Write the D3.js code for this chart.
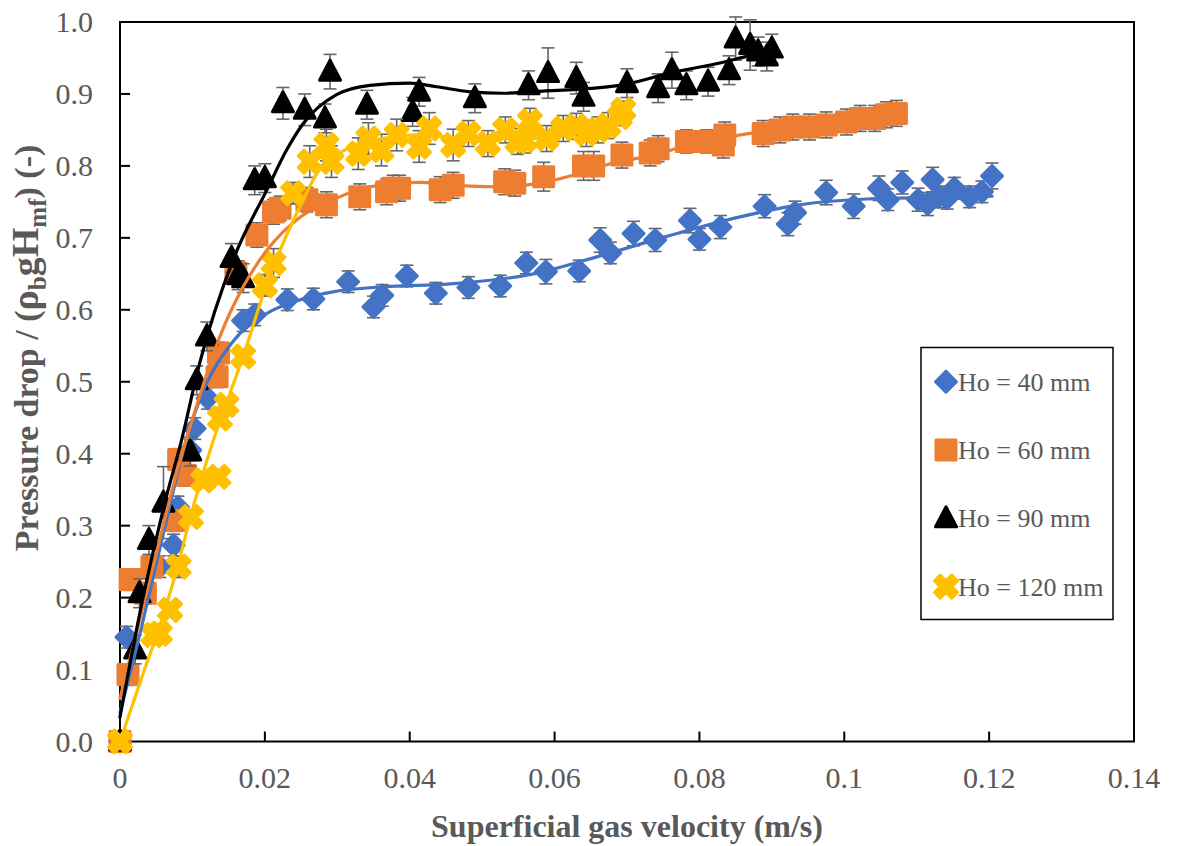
<!DOCTYPE html>
<html>
<head>
<meta charset="utf-8">
<script src="https://cdn.jsdelivr.net/npm/d3@7"></script>
<style>
body { margin: 0; background: #fff; }
</style>
</head>
<body>
<div id="chart"></div>
<script>
// points: [velocity, pressure drop ratio, error]
var ho40 = [
  [0, 0, 0], [0.0009, 0.145, 0.015], [0.0055, 0.243, 0.015], [0.0074, 0.273, 0.015], [0.008, 0.326, 0.015],
  [0.0097, 0.405, 0.015], [0.0103, 0.435, 0.015], [0.0121, 0.477, 0.015], [0.0170, 0.585, 0.015], [0.0186, 0.593, 0.015],
  [0.0231, 0.614, 0.015], [0.0267, 0.615, 0.015], [0.0315, 0.639, 0.015], [0.0350, 0.604, 0.015], [0.0362, 0.620, 0.015],
  [0.0396, 0.647, 0.015], [0.0436, 0.623, 0.015], [0.0481, 0.631, 0.015], [0.0525, 0.633, 0.015], [0.0561, 0.665, 0.015],
  [0.0588, 0.653, 0.017], [0.0634, 0.654, 0.015], [0.0663, 0.697, 0.017], [0.0677, 0.679, 0.015], [0.0709, 0.706, 0.017],
  [0.0739, 0.697, 0.016], [0.0787, 0.724, 0.017], [0.0800, 0.698, 0.015], [0.0829, 0.715, 0.016], [0.0890, 0.744, 0.016],
  [0.0922, 0.719, 0.016], [0.0932, 0.735, 0.016], [0.0975, 0.763, 0.017], [0.1013, 0.744, 0.017], [0.1048, 0.769, 0.017],
  [0.1060, 0.753, 0.015], [0.1080, 0.777, 0.016], [0.1102, 0.753, 0.016], [0.1115, 0.747, 0.016], [0.1122, 0.781, 0.017],
  [0.1130, 0.757, 0.015], [0.1142, 0.755, 0.015], [0.1152, 0.769, 0.015], [0.1173, 0.757, 0.015], [0.1190, 0.764, 0.015],
  [0.1204, 0.786, 0.018]
];
var ho60 = [
  [0, 0, 0], [0.0011, 0.093, 0.015], [0.0014, 0.225, 0.015], [0.0035, 0.206, 0.015], [0.0044, 0.243, 0.015],
  [0.0076, 0.307, 0.015], [0.0081, 0.392, 0.015], [0.0090, 0.370, 0.015], [0.0134, 0.507, 0.015], [0.0136, 0.540, 0.015],
  [0.0160, 0.651, 0.015], [0.0189, 0.704, 0.017], [0.0212, 0.736, 0.017], [0.0221, 0.741, 0.017], [0.0258, 0.753, 0.017],
  [0.0285, 0.746, 0.018], [0.0331, 0.757, 0.018], [0.0368, 0.764, 0.018], [0.0377, 0.769, 0.018], [0.0386, 0.769, 0.018],
  [0.0442, 0.767, 0.018], [0.0460, 0.773, 0.018], [0.0531, 0.778, 0.018], [0.0545, 0.776, 0.018], [0.0585, 0.785, 0.02],
  [0.0640, 0.800, 0.02], [0.0654, 0.800, 0.02], [0.0693, 0.815, 0.018], [0.0732, 0.818, 0.018], [0.0743, 0.824, 0.018],
  [0.0782, 0.834, 0.016], [0.0810, 0.834, 0.016], [0.0833, 0.829, 0.018], [0.0835, 0.843, 0.018], [0.0888, 0.845, 0.018],
  [0.0911, 0.850, 0.018], [0.0929, 0.854, 0.018], [0.0952, 0.854, 0.018], [0.0975, 0.857, 0.018], [0.1003, 0.861, 0.018],
  [0.1022, 0.866, 0.018], [0.1042, 0.866, 0.018], [0.1058, 0.871, 0.018], [0.1072, 0.873, 0.018]
];
var ho90 = [
  [0, 0, 0], [0.0021, 0.128, 0.02], [0.0027, 0.206, 0.02], [0.0040, 0.280, 0.02], [0.0060, 0.332, 0.05],
  [0.0097, 0.403, 0.02], [0.0106, 0.502, 0.02], [0.0120, 0.563, 0.02], [0.0154, 0.672, 0.02], [0.0163, 0.648, 0.02],
  [0.0170, 0.644, 0.02], [0.0186, 0.780, 0.02], [0.0200, 0.783, 0.02], [0.0225, 0.887, 0.022], [0.0255, 0.878, 0.022],
  [0.0283, 0.866, 0.02], [0.0290, 0.931, 0.024], [0.0341, 0.885, 0.02], [0.0404, 0.875, 0.02], [0.0413, 0.903, 0.02],
  [0.0490, 0.894, 0.02], [0.0564, 0.912, 0.02], [0.0591, 0.929, 0.035], [0.0630, 0.922, 0.022], [0.0640, 0.896, 0.02],
  [0.0700, 0.915, 0.02], [0.0743, 0.908, 0.02], [0.0762, 0.933, 0.025], [0.0782, 0.912, 0.02], [0.0812, 0.917, 0.02],
  [0.0841, 0.933, 0.02], [0.0850, 0.977, 0.03], [0.0870, 0.968, 0.035], [0.0881, 0.959, 0.02], [0.0893, 0.952, 0.02],
  [0.0900, 0.963, 0.02]
];
var ho120 = [
  [0, 0, 0], [0.0046, 0.148, 0.01], [0.0055, 0.150, 0.01], [0.0069, 0.183, 0.01], [0.0081, 0.243, 0.015],
  [0.0098, 0.312, 0.01], [0.0115, 0.363, 0.01], [0.0136, 0.368, 0.01], [0.0138, 0.449, 0.01], [0.0147, 0.468, 0.01],
  [0.0170, 0.535, 0.01], [0.0200, 0.634, 0.015], [0.0212, 0.665, 0.02], [0.0239, 0.762, 0.015], [0.0262, 0.806, 0.022],
  [0.0285, 0.829, 0.022], [0.0292, 0.806, 0.022], [0.0329, 0.817, 0.022], [0.0343, 0.838, 0.022], [0.0361, 0.822, 0.022],
  [0.0382, 0.843, 0.022], [0.0413, 0.827, 0.022], [0.0427, 0.852, 0.022], [0.0460, 0.829, 0.022], [0.0481, 0.845, 0.018],
  [0.0508, 0.831, 0.018], [0.0532, 0.850, 0.018], [0.0549, 0.834, 0.018], [0.0559, 0.836, 0.018], [0.0566, 0.862, 0.018],
  [0.0589, 0.838, 0.018], [0.0612, 0.852, 0.018], [0.0630, 0.855, 0.018], [0.0644, 0.845, 0.018], [0.0660, 0.850, 0.018],
  [0.0674, 0.856, 0.018], [0.0690, 0.868, 0.012], [0.0695, 0.878, 0.012]
];

// trendlines: [velocity, value]
var trend40 = [[0, 0.04], [0.003, 0.16], [0.006, 0.29], [0.0094, 0.428], [0.011, 0.475], [0.0156, 0.556], [0.0203, 0.595],
  [0.0249, 0.614], [0.0294, 0.625], [0.0364, 0.632], [0.0456, 0.636], [0.0571, 0.650], [0.0663, 0.675], [0.0755, 0.702],
  [0.0847, 0.727], [0.0939, 0.746], [0.1031, 0.754], [0.1123, 0.756], [0.1204, 0.758]];
var trend60 = [[0, 0.06], [0.004, 0.22], [0.008, 0.38], [0.011, 0.48], [0.0138, 0.563], [0.017, 0.632], [0.0203, 0.683],
  [0.0249, 0.729], [0.0294, 0.753], [0.0345, 0.771], [0.0414, 0.777], [0.0483, 0.772], [0.0525, 0.771], [0.058, 0.776],
  [0.0626, 0.787], [0.0681, 0.804], [0.0736, 0.815], [0.0782, 0.828], [0.0874, 0.846], [0.0939, 0.854], [0.1, 0.861],
  [0.1072, 0.871]];
var trend90 = [[0, 0.034], [0.0032, 0.201], [0.0064, 0.340], [0.0085, 0.419], [0.011, 0.526], [0.0156, 0.669],
  [0.0203, 0.767], [0.023, 0.822], [0.0253, 0.859], [0.0299, 0.899], [0.0345, 0.912], [0.04, 0.915], [0.0437, 0.910],
  [0.0483, 0.903], [0.0529, 0.901], [0.0566, 0.903], [0.069, 0.912], [0.0759, 0.929], [0.0828, 0.943], [0.0874, 0.954],
  [0.09, 0.958]];
var trend120 = [[0, 0.0], [0.0032, 0.095], [0.0055, 0.160], [0.0078, 0.238], [0.0101, 0.326], [0.0129, 0.419],
  [0.017, 0.535], [0.0203, 0.637], [0.0253, 0.753], [0.0272, 0.790], [0.0299, 0.815], [0.0345, 0.834], [0.0414, 0.843],
  [0.0483, 0.838], [0.0566, 0.838], [0.063, 0.848], [0.0695, 0.872]];

var seriesNames = ["Ho = 40 mm", "Ho = 60 mm", "Ho = 90 mm", "Ho = 120 mm"];
var seriesColors = ["#4472C4", "#ED7D31", "#000000", "#FFC000"];
var seriesShapes = ["diamond", "square", "triangle", "x"];
var xTicks = [0, 0.02, 0.04, 0.06, 0.08, 0.1, 0.12, 0.14];
var yTicks = [0, 0.1, 0.2, 0.3, 0.4, 0.5, 0.6, 0.7, 0.8, 0.9, 1.0];

var allData = [ho40, ho60, ho90, ho120];
var allTrends = [trend40, trend60, trend90, trend120];

function drawChart() {

var svg = d3.select('#chart').append('svg').attr("width", 1177).attr("height", 846);

var pLeft = 120, pRight = 1134, pTop = 22, pBottom = 741.5;
var textCol = "#595959";
var font = "'Liberation Serif', 'Times New Roman', serif";

var x = d3.scaleLinear().domain([0, 0.14]).range([pLeft, pRight]);
var y = d3.scaleLinear().domain([0, 1]).range([pBottom, pTop]);

// marker shapes
function markerPath(shape) {
  if (shape == "diamond") return "M0,-10.5L10.5,0L0,10.5L-10.5,0Z";
  if (shape == "square") return "M-10,-10L10,-10L10,10L-10,10Z";
  if (shape == "triangle") return "M0,-11.5L10.5,8.5L-10.5,8.5Z";
  return d3.symbol().type(d3.symbolCross).size(330)();
}
function markerTransform(shape, px, py) {
  return "translate(" + px + "," + py + ")" + (shape == "x" ? " rotate(45)" : "");
}

// frame
svg.append("rect")
  .attr("x", pLeft).attr("y", pTop)
  .attr("width", pRight - pLeft).attr("height", pBottom - pTop)
  .attr("fill", "none").attr("stroke", "#000").attr("stroke-width", 2);

// ticks (inside)
svg.append("g").selectAll("line")
  .data(yTicks).enter().append("line")
  .attr("x1", pLeft).attr("x2", pLeft + 10)
  .attr("y1", function(d) { return y(d); }).attr("y2", function(d) { return y(d); })
  .attr("stroke", "#000").attr("stroke-width", 2);

svg.append("g").selectAll("line")
  .data(xTicks).enter().append("line")
  .attr("x1", function(d) { return x(d); }).attr("x2", function(d) { return x(d); })
  .attr("y1", pBottom).attr("y2", pBottom - 10)
  .attr("stroke", "#000").attr("stroke-width", 2);

svg.append("g").selectAll("text")
  .data(yTicks).enter().append("text")
  .attr("x", 93)
  .attr("y", function(d) { return y(d) + 10; })
  .attr("text-anchor", "end")
  .attr("font-family", font)
  .attr("font-size", 30)
  .attr("fill", textCol)
  .text(function(d) { return d.toFixed(1); });

svg.append("g").selectAll("text")
  .data(xTicks).enter().append("text")
  .attr("x", function(d) { return x(d); })
  .attr("y", 788)
  .attr("text-anchor", "middle")
  .attr("font-family", font)
  .attr("font-size", 30)
  .attr("fill", textCol)
  .text(function(d) { return String(d); });

// axis titles
svg.append("text")
  .attr("x", (pLeft + pRight) / 2).attr("y", 837)
  .attr("text-anchor", "middle")
  .attr("font-family", font)
  .attr("font-size", 32).attr("font-weight", "bold")
  .attr("fill", textCol)
  .text("Superficial gas velocity (m/s)");

var yTitle = svg.append("text")
  .attr("transform", "translate(38,348) rotate(-90)")
  .attr("text-anchor", "middle")
  .attr("font-family", font)
  .attr("font-size", 34).attr("font-weight", "bold")
  .attr("fill", textCol);
yTitle.append("tspan").text("Pressure drop / (");
yTitle.append("tspan").attr("font-size", 38).text("ρ");
yTitle.append("tspan").attr("dy", 8).attr("font-size", 25).text("b");
yTitle.append("tspan").attr("dy", -8).attr("font-size", 38).text("gH");
yTitle.append("tspan").attr("dy", 8).attr("font-size", 25).text("mf");
yTitle.append("tspan").attr("dy", -8).text(") (-)");

// error bars + markers per series
var plot = svg.append("g");
allData.forEach(function(data, i) {
  var g = plot.append("g");
  var eb = g.selectAll(".eb").data(data.filter(function(d) { return d[2] > 0; })).enter().append("g")
    .attr("stroke", "#666").attr("stroke-width", 1.6);
  eb.append("line")
    .attr("x1", function(d) { return x(d[0]); }).attr("x2", function(d) { return x(d[0]); })
    .attr("y1", function(d) { return y(d[1] - d[2]); }).attr("y2", function(d) { return y(d[1] + d[2]); });
  eb.append("line")
    .attr("x1", function(d) { return x(d[0]) - 6.5; }).attr("x2", function(d) { return x(d[0]) + 6.5; })
    .attr("y1", function(d) { return y(d[1] + d[2]); }).attr("y2", function(d) { return y(d[1] + d[2]); });
  eb.append("line")
    .attr("x1", function(d) { return x(d[0]) - 6.5; }).attr("x2", function(d) { return x(d[0]) + 6.5; })
    .attr("y1", function(d) { return y(d[1] - d[2]); }).attr("y2", function(d) { return y(d[1] - d[2]); });

  g.selectAll("path").data(data).enter().append("path")
    .attr("d", markerPath(seriesShapes[i]))
    .attr("transform", function(d) { return markerTransform(seriesShapes[i], x(d[0]), y(d[1])); })
    .attr("fill", seriesColors[i])
    .attr("stroke", seriesColors[i])
    .attr("stroke-width", 3)
    .attr("stroke-linejoin", "round");
});

// trendlines on top
var line = d3.line()
  .x(function(d) { return x(d[0]); })
  .y(function(d) { return y(d[1]); })
  .curve(d3.curveMonotoneX);

allTrends.forEach(function(t, i) {
  plot.append("path")
    .attr("d", line(t))
    .attr("fill", "none")
    .attr("stroke", seriesColors[i])
    .attr("stroke-width", 3.2)
    .attr("stroke-linecap", "round");
});

// legend
var legend = svg.append("g");
legend.append("rect")
  .attr("x", 921).attr("y", 347.5)
  .attr("width", 192).attr("height", 272)
  .attr("fill", "#fff").attr("stroke", "#000").attr("stroke-width", 1.5);

var items = legend.selectAll(".item").data(seriesNames).enter().append("g")
  .attr("transform", function(d, i) { return "translate(0," + (381.7 + i * 68.3) + ")"; });

items.append("path")
  .attr("d", function(d, i) { return markerPath(seriesShapes[i]); })
  .attr("transform", function(d, i) { return markerTransform(seriesShapes[i], 946, 0); })
  .attr("fill", function(d, i) { return seriesColors[i]; })
  .attr("stroke", function(d, i) { return seriesColors[i]; })
  .attr("stroke-width", 3)
  .attr("stroke-linejoin", "round");

items.append("text")
  .attr("x", 958).attr("y", 9)
  .attr("font-family", font)
  .attr("font-size", 26)
  .attr("fill", textCol)
  .text(function(d) { return d; });
}

drawChart();
</script>
</body>
</html>
